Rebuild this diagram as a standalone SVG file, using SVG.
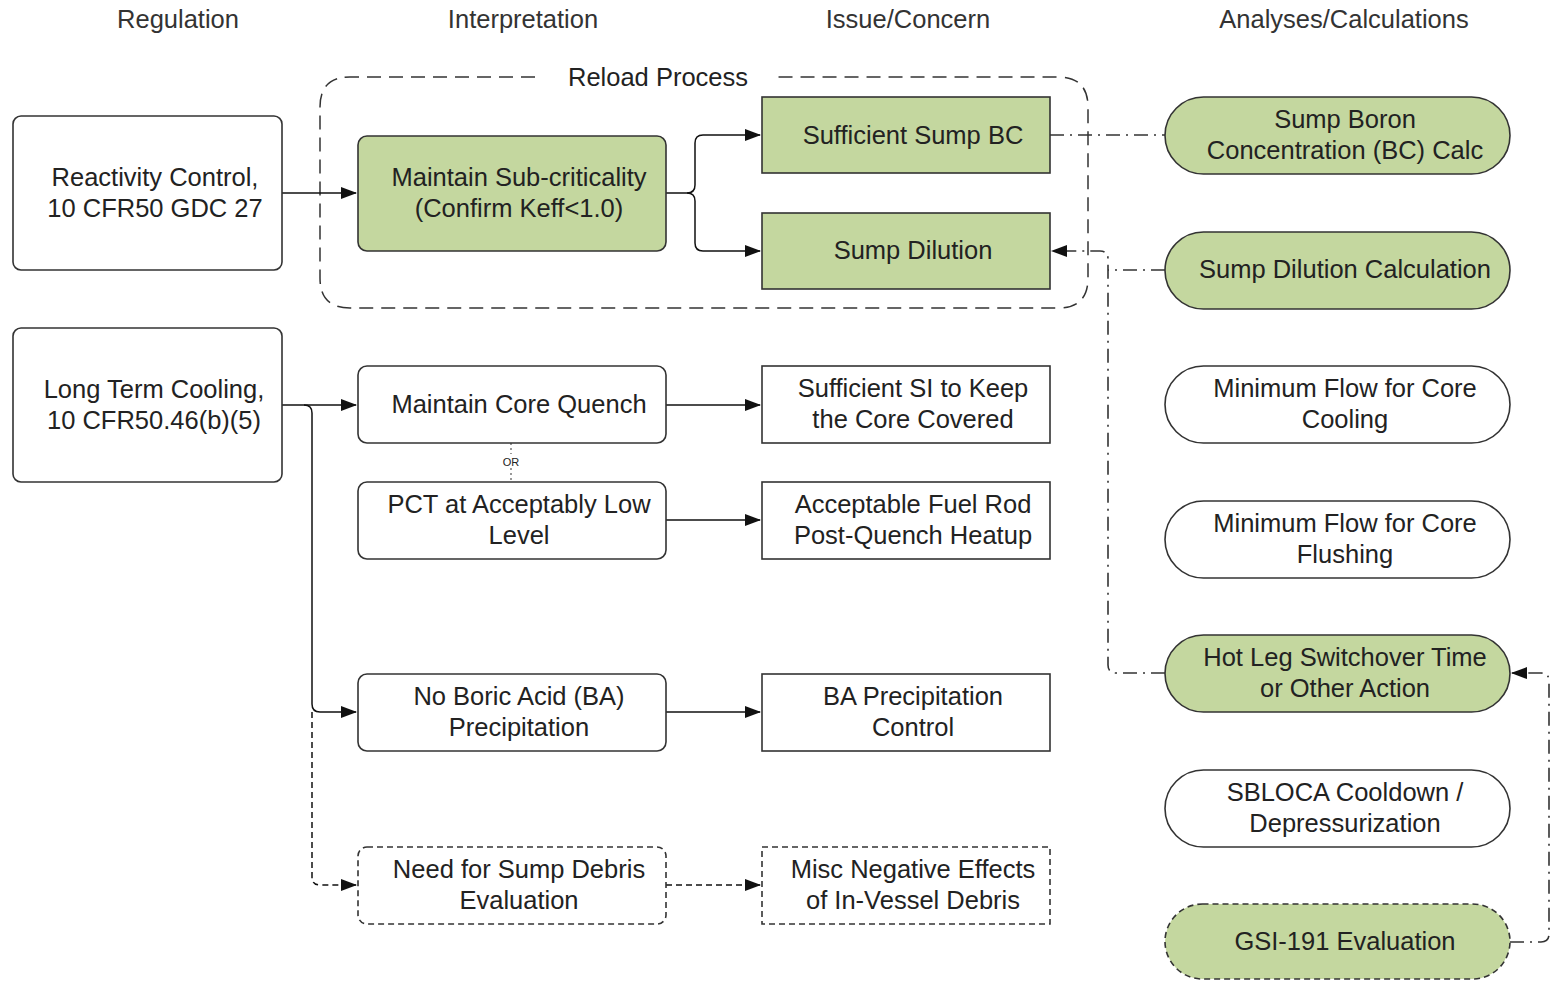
<svg xmlns="http://www.w3.org/2000/svg" width="1554" height="981" viewBox="0 0 1554 981">
<defs>
<marker id="arr" markerWidth="16" markerHeight="12" refX="15" refY="6" orient="auto" markerUnits="userSpaceOnUse">
<path d="M0,0 L16,6 L0,12 Z" fill="#111"/>
</marker>
<style>
text{font-family:"Liberation Sans",Arial,sans-serif;font-size:25.5px;fill:#222;text-anchor:middle}
.hdr{fill:#333}
.box{fill:#fff;stroke:#333;stroke-width:1.6}
.grn{fill:#c4d79f;stroke:#333;stroke-width:1.6}
.dsh{stroke-dasharray:6 4}
.ln{fill:none;stroke:#111;stroke-width:1.5}
.dd{fill:none;stroke:#333;stroke-width:1.6;stroke-dasharray:14 6 2 6}
</style>
</defs>
<rect width="1554" height="981" fill="#fff"/>

<g id="headers">
<text class="hdr" x="178" y="28">Regulation</text>
<text class="hdr" x="523" y="28">Interpretation</text>
<text class="hdr" x="908" y="28">Issue/Concern</text>
<text class="hdr" x="1344" y="28">Analyses/Calculations</text>
</g>

<g id="reload-process">
<path d="M535,77 H350 Q320,77 320,107 V278 Q320,308 350,308 H1058 Q1088,308 1088,278 V107 Q1088,77 1058,77 H775" fill="none" stroke="#333" stroke-width="1.5" stroke-dasharray="14 8"/>
<text x="658" y="86">Reload Process</text>
</g>

<g id="connectors">
<path class="ln" d="M282,193 H356" marker-end="url(#arr)"/>
<path class="ln" d="M666,193 H687 Q695,193 695,185 V143 Q695,135 703,135 H760" marker-end="url(#arr)"/>
<path class="ln" d="M687,193 Q695,193 695,201 V243 Q695,251 703,251 H760" marker-end="url(#arr)"/>
<path class="ln" d="M282,405 H356" marker-end="url(#arr)"/>
<path class="ln" d="M304,405 Q312,405 312,413 V704 Q312,712 320,712 H356" marker-end="url(#arr)"/>
<path class="ln" d="M312,712 V877 Q312,885 320,885 H356" stroke-dasharray="6 4" marker-end="url(#arr)"/>
<path class="ln" d="M666,405 H760" marker-end="url(#arr)"/>
<path class="ln" d="M666,520 H760" marker-end="url(#arr)"/>
<path class="ln" d="M666,712 H760" marker-end="url(#arr)"/>
<path class="ln" d="M666,885 H760" stroke-dasharray="6 4" marker-end="url(#arr)"/>
<path d="M511,443 V482" fill="none" stroke="#555" stroke-width="1.2" stroke-dasharray="2 3"/>
<rect x="499" y="454" width="24" height="14" fill="#fff"/>
<text x="511" y="466" style="font-size:11px">OR</text>
<path class="dd" d="M1050,135 H1165"/>
<path class="dd" d="M1165,673 H1116 Q1108,673 1108,665 V259 Q1108,251 1100,251 H1052" marker-end="url(#arr)"/>
<path class="dd" d="M1165,270 H1108"/>
<path class="dd" d="M1510,942 H1541 Q1549,942 1549,934 V681 Q1549,673 1541,673 H1512" marker-end="url(#arr)"/>
</g>

<g id="reactivity-control">
<rect class="box" x="13" y="116" width="269" height="154" rx="8"/>
<text x="155" y="186">Reactivity Control,</text>
<text x="155" y="217">10 CFR50 GDC 27</text>
</g>
<g id="long-term-cooling">
<rect class="box" x="13" y="328" width="269" height="154" rx="8"/>
<text x="154" y="398">Long Term Cooling,</text>
<text x="154" y="429">10 CFR50.46(b)(5)</text>
</g>

<g id="maintain-subcriticality">
<rect class="grn" x="358" y="136" width="308" height="115" rx="9"/>
<text x="519" y="186">Maintain Sub-criticality</text>
<text x="519" y="217">(Confirm Keff&lt;1.0)</text>
</g>
<g id="maintain-core-quench">
<rect class="box" x="358" y="366" width="308" height="77" rx="9"/>
<text x="519" y="413">Maintain Core Quench</text>
</g>
<g id="pct-low">
<rect class="box" x="358" y="482" width="308" height="77" rx="9"/>
<text x="519" y="513">PCT at Acceptably Low</text>
<text x="519" y="544">Level</text>
</g>
<g id="no-boric-acid">
<rect class="box" x="358" y="674" width="308" height="77" rx="9"/>
<text x="519" y="705">No Boric Acid (BA)</text>
<text x="519" y="736">Precipitation</text>
</g>
<g id="sump-debris">
<rect class="box dsh" x="358" y="847" width="308" height="77" rx="9"/>
<text x="519" y="878">Need for Sump Debris</text>
<text x="519" y="909">Evaluation</text>
</g>

<g id="sufficient-sump-bc">
<rect class="grn" x="762" y="97" width="288" height="76"/>
<text x="913" y="144">Sufficient Sump BC</text>
</g>
<g id="sump-dilution">
<rect class="grn" x="762" y="213" width="288" height="76"/>
<text x="913" y="259">Sump Dilution</text>
</g>
<g id="sufficient-si">
<rect class="box" x="762" y="366" width="288" height="77"/>
<text x="913" y="397">Sufficient SI to Keep</text>
<text x="913" y="428">the Core Covered</text>
</g>
<g id="fuel-rod-heatup">
<rect class="box" x="762" y="482" width="288" height="77"/>
<text x="913" y="513">Acceptable Fuel Rod</text>
<text x="913" y="544">Post-Quench Heatup</text>
</g>
<g id="ba-precipitation-control">
<rect class="box" x="762" y="674" width="288" height="77"/>
<text x="913" y="705">BA Precipitation</text>
<text x="913" y="736">Control</text>
</g>
<g id="in-vessel-debris">
<rect class="box dsh" x="762" y="847" width="288" height="77"/>
<text x="913" y="878">Misc Negative Effects</text>
<text x="913" y="909">of In-Vessel Debris</text>
</g>

<g id="sump-boron-calc">
<rect class="grn" x="1165" y="97" width="345" height="77" rx="38.5"/>
<text x="1345" y="128">Sump Boron</text>
<text x="1345" y="159">Concentration (BC) Calc</text>
</g>
<g id="sump-dilution-calc">
<rect class="grn" x="1165" y="232" width="345" height="77" rx="38.5"/>
<text x="1345" y="278">Sump Dilution Calculation</text>
</g>
<g id="min-flow-cooling">
<rect class="box" x="1165" y="366" width="345" height="77" rx="38.5"/>
<text x="1345" y="397">Minimum Flow for Core</text>
<text x="1345" y="428">Cooling</text>
</g>
<g id="min-flow-flushing">
<rect class="box" x="1165" y="501" width="345" height="77" rx="38.5"/>
<text x="1345" y="532">Minimum Flow for Core</text>
<text x="1345" y="563">Flushing</text>
</g>
<g id="hot-leg-switchover">
<rect class="grn" x="1165" y="635" width="345" height="77" rx="38.5"/>
<text x="1345" y="666">Hot Leg Switchover Time</text>
<text x="1345" y="697">or Other Action</text>
</g>
<g id="sbloca-cooldown">
<rect class="box" x="1165" y="770" width="345" height="77" rx="38.5"/>
<text x="1345" y="801">SBLOCA Cooldown /</text>
<text x="1345" y="832">Depressurization</text>
</g>
<g id="gsi-191">
<rect class="grn dsh" x="1165" y="904" width="345" height="75" rx="37.5"/>
<text x="1345" y="950">GSI-191 Evaluation</text>
</g>
</svg>
